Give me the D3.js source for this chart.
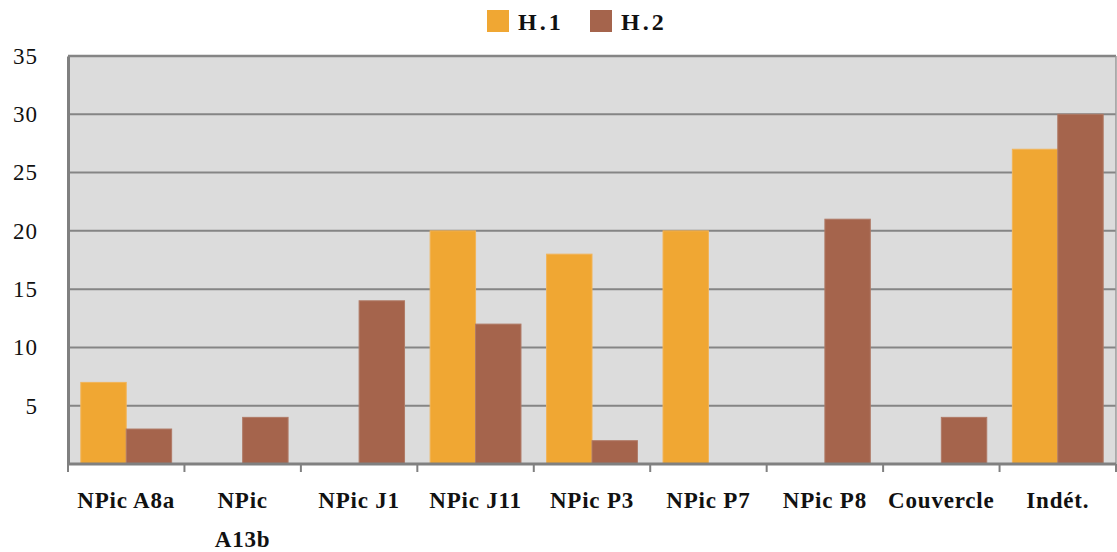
<!DOCTYPE html>
<html>
<head>
<meta charset="utf-8">
<script src="https://cdn.jsdelivr.net/npm/d3@7"></script>
<style>
  body { margin: 0; background: #fff; }
  svg text { font-family: "Liberation Serif", "DejaVu Serif", serif; fill: #111; }
</style>
</head>
<body>
<div id="chart"></div>
<script>
// categories and values
const categories = ['NPic A8a', 'NPic A13b', 'NPic J1', 'NPic J11', 'NPic P3', 'NPic P7', 'NPic P8', 'Couvercle', 'Indét.'];
const tickLabels = [['NPic A8a'], ['NPic', 'A13b'], ['NPic J1'], ['NPic J11'], ['NPic P3'], ['NPic P7'], ['NPic P8'], ['Couvercle'], ['Indét.']];
const seriesNames = ['H.1', 'H.2'];
const h1 = [7, 0, 0, 20, 18, 20, 0, 0, 27];
const h2 = [3, 4, 14, 12, 2, 0, 21, 4, 30];
const yTicks = [5, 10, 15, 20, 25, 30, 35];

const colors = { 'H.1': '#f0a733', 'H.2': '#a5644c' };

const W = 1117, H = 552;
const margin = { top: 56, left: 68, right: 1, bottom: 88 };
const width = W - margin.left - margin.right;
const height = H - margin.top - margin.bottom;

const svg = d3.select('#chart').append('svg')
  .attr('width', W)
  .attr('height', H);

const g = svg.append('g')
  .attr('transform', 'translate(' + margin.left + ',' + margin.top + ')');

const x = d3.scaleBand()
  .domain(categories)
  .range([0, width])
  .paddingInner(0.22)
  .paddingOuter(0.11);

const x1 = d3.scaleBand()
  .domain(seriesNames)
  .range([0, x.bandwidth()]);

const y = d3.scaleLinear()
  .domain([0, 35])
  .range([height, 0]);

// plot background
g.append('rect')
  .attr('width', width)
  .attr('height', height)
  .attr('fill', '#dcdcdc');

// gridlines
g.append('g')
  .selectAll('line')
  .data(yTicks)
  .join('line')
  .attr('x1', 0)
  .attr('x2', width)
  .attr('y1', d => y(d))
  .attr('y2', d => y(d))
  .attr('stroke', '#858585')
  .attr('stroke-width', d => d === 35 ? 2.5 : 2);

// right border
g.append('line')
  .attr('x1', width).attr('x2', width)
  .attr('y1', 0).attr('y2', height)
  .attr('stroke', '#9a9a9a')
  .attr('stroke-width', 1.5);

// bars
const rows = categories.map((c, i) => ({ cat: c, vals: [h1[i], h2[i]] }));

const groups = g.append('g')
  .selectAll('g')
  .data(rows)
  .join('g')
  .attr('transform', d => 'translate(' + x(d.cat) + ',0)');

groups.selectAll('rect')
  .data(d => d.vals.map((v, j) => ({ key: seriesNames[j], v: v })).filter(d => d.v > 0))
  .join('rect')
  .attr('x', d => x1(d.key))
  .attr('y', d => y(d.v))
  .attr('width', x1.bandwidth())
  .attr('height', d => y(0) - y(d.v))
  .attr('fill', d => colors[d.key])
  .attr('stroke', d => d.key === 'H.1' ? '#f2b458' : '#b07a66')
  .attr('stroke-width', 1);

// y axis
const yAxis = g.append('g')
  .call(d3.axisLeft(y).tickValues(yTicks).tickSize(0).tickPadding(30));
yAxis.select('.domain').attr('stroke', '#808080').attr('stroke-width', 3);
yAxis.selectAll('text')
  .style('font-size', '23px')
  .style('font-family', '"Liberation Serif", serif')
  .style('letter-spacing', '1px')
  .attr('fill', '#111');

// x axis with ticks at band boundaries
const xAxis = g.append('g')
  .attr('transform', 'translate(0,' + height + ')');
xAxis.append('line')
  .attr('x1', 0).attr('x2', width)
  .attr('stroke', '#808080')
  .attr('stroke-width', 3);
const step = x.step();
xAxis.selectAll('.tick')
  .data(d3.range(categories.length + 1))
  .join('line')
  .attr('class', 'tick')
  .attr('x1', i => i === categories.length ? width : x(categories[0]) - x.paddingOuter() * step + i * step)
  .attr('x2', i => i === categories.length ? width : x(categories[0]) - x.paddingOuter() * step + i * step)
  .attr('y1', 0)
  .attr('y2', 8)
  .attr('stroke', '#808080')
  .attr('stroke-width', 2);

const labels = xAxis.selectAll('text')
  .data(categories)
  .join('text')
  .attr('x', d => x(d) + x.bandwidth() / 2)
  .attr('y', 44)
  .attr('text-anchor', 'middle')
  .style('font-size', '23px')
  .style('font-weight', 'bold')
  .style('letter-spacing', '0.8px');

labels.each(function (d, i) {
  d3.select(this).selectAll('tspan')
    .data(tickLabels[i])
    .join('tspan')
    .attr('x', x(d) + x.bandwidth() / 2)
    .attr('dy', (t, k) => k === 0 ? 0 : 39)
    .text(t => t);
});

// legend
const legend = svg.append('g')
  .attr('transform', 'translate(487,10)');
const legendX = [0, 103];
seriesNames.forEach((s, i) => {
  const lg = legend.append('g').attr('transform', 'translate(' + legendX[i] + ',0)');
  lg.append('rect')
    .attr('width', 22)
    .attr('height', 22)
    .attr('fill', colors[s]);
  lg.append('text')
    .attr('x', 31)
    .attr('y', 20)
    .style('font-size', '24px')
    .style('font-weight', 'bold')
    .style('letter-spacing', '3px')
    .text(s);
});
</script>
</body>
</html>
